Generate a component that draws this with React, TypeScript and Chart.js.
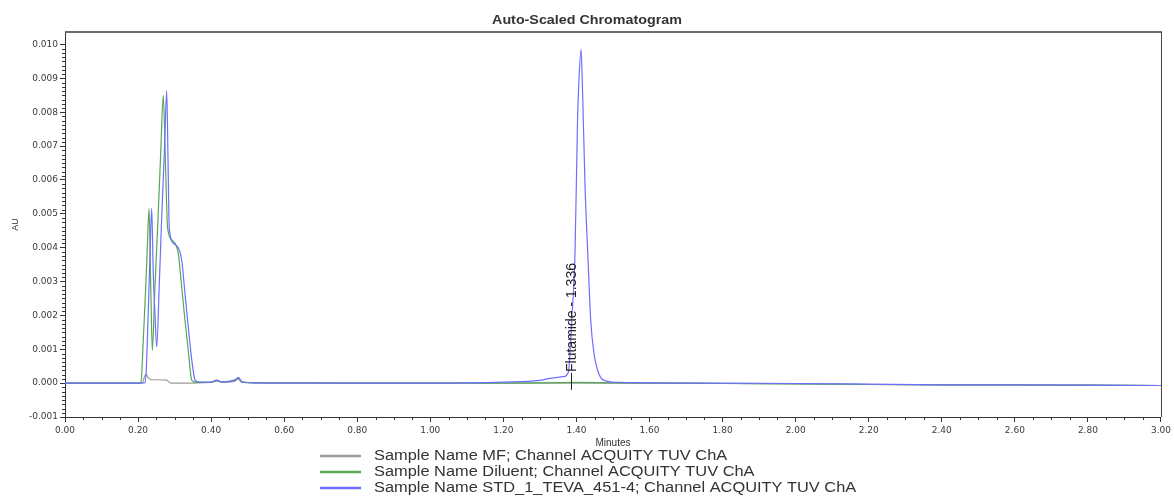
import React, { useEffect, useRef } from "react";
import { Chart, registerables } from "chart.js";

Chart.register(...registerables);

const TITLE = "Auto-Scaled Chromatogram";
const X_TITLE = "Minutes";
const Y_TITLE = "AU";
const X_TICKS = [0.0, 0.2, 0.4, 0.6, 0.8, 1.0, 1.2, 1.4, 1.6, 1.8, 2.0, 2.2, 2.4, 2.6, 2.8, 3.0];
const Y_TICKS = [-0.001, 0.0, 0.001, 0.002, 0.003, 0.004, 0.005, 0.006, 0.007, 0.008, 0.009, 0.01];
const X_MIN = 0;
const X_MAX = 3.0;
const Y_MIN = -0.001;
const Y_MAX = 0.01037;

const SERIES_NAMES = [
  "Sample Name MF; Channel ACQUITY TUV ChA",
  "Sample Name Diluent; Channel ACQUITY TUV ChA",
  "Sample Name STD_1_TEVA_451-4; Channel ACQUITY TUV ChA",
];
const SERIES_COLORS = ["#9c9c9c", "#55a855", "#6e6eff"];

const MF_T = [0, 0.1, 0.2, 0.212, 0.218, 0.222, 0.228, 0.236, 0.255, 0.278, 0.288, 0.32, 0.4, 0.415, 0.43, 0.465, 0.474, 0.485, 0.6, 1.0, 1.4, 1.8, 2.0, 2.2, 2.4, 2.6, 2.8, 3.0];
const MF_V = [0, 0, 0, 0.00002, 0.0002, 0.00026, 0.00016, 0.0001, 0.0001, 0.00009, 0.00001, 0, 0.00002, 0.00006, 0.00002, 0.00006, 0.00012, 0.00002, 0, 0, 0, -0.00001, -0.00002, -0.00004, -0.00005, -0.00005, -0.00006, -0.00007];

const DIL_T = [0, 0.1, 0.2, 0.208, 0.214, 0.22, 0.225, 0.23, 0.2345, 0.239, 0.246, 0.254, 0.262, 0.269, 0.275, 0.281, 0.295, 0.31, 0.318, 0.328, 0.338, 0.347, 0.36, 0.4, 0.415, 0.43, 0.465, 0.474, 0.485, 0.52, 0.8, 1.0, 1.2, 1.4, 1.6, 1.8, 2.0, 2.2, 2.4, 2.6, 2.8, 3.0];
const DIL_V = [0, 0, 0, 0.00003, 0.0012, 0.0026, 0.0039, 0.00516, 0.003, 0.00097, 0.0028, 0.0047, 0.0068, 0.0085, 0.0065, 0.00457, 0.0042, 0.00383, 0.003, 0.0019, 0.0009, 0.00008, 0.00002, 0.00003, 0.00008, 0.00003, 0.0001, 0.00015, 0.00003, 0.00001, 0, 0, 0, 0.00002, 0, -0.00001, -0.00002, -0.00004, -0.00005, -0.00005, -0.00006, -0.00007];

const STD_T = [0, 0.1, 0.2, 0.218, 0.222, 0.227, 0.232, 0.2373, 0.2415, 0.246, 0.251, 0.258, 0.2647, 0.272, 0.2784, 0.282, 0.2855, 0.3, 0.3194, 0.328, 0.338, 0.348, 0.356, 0.365, 0.4, 0.415, 0.43, 0.465, 0.474, 0.485, 0.52, 0.8, 1.0, 1.2, 1.3, 1.328, 1.364, 1.378, 1.387, 1.396, 1.403, 1.406, 1.4125, 1.416, 1.4235, 1.431, 1.439, 1.448, 1.4627, 1.483, 1.52, 1.8, 2.0, 2.2, 2.4, 2.6, 2.8, 3.0];
const STD_V = [0, 0, 0, 0.00001, 0.0003, 0.0018, 0.0035, 0.00516, 0.0033, 0.0021, 0.00107, 0.0029, 0.0049, 0.0068, 0.00864, 0.0066, 0.00457, 0.0041, 0.00363, 0.0027, 0.0016, 0.0006, 0.00009, 0.00004, 0.00003, 0.00009, 0.00004, 0.00008, 0.00017, 0.00004, 0.00001, 0, 0, 0.00003, 0.00008, 0.00014, 0.00019, 0.00033, 0.00186, 0.00383, 0.00777, 0.00875, 0.00985, 0.0089, 0.0058, 0.00383, 0.00186, 0.00088, 0.00024, 0.00006, 0.00002, 0, -0.00001, -0.00003, -0.00005, -0.00005, -0.00006, -0.00007];

const PEAK_LABEL = "Flutamide - 1.336";
const PEAK_MARK_T = 1.384;
const X_MINOR_DIV = 4;
const Y_MINOR_DIV = 8;

const toPts = (t: number[], v: number[]) => t.map((x, i) => ({ x, y: v[i] }));

const decorPlugin = {
  id: "decor",
  afterDraw(chart: any) {
    const { ctx, chartArea } = chart;
    const xs = chart.scales.x;
    const ys = chart.scales.y;
    const { left, right, top, bottom } = chartArea;
    ctx.save();
    // frame: top and right
    ctx.strokeStyle = "#6a6a6a";
    ctx.lineWidth = 2;
    ctx.beginPath();
    ctx.moveTo(left, top);
    ctx.lineTo(right + 1, top);
    ctx.stroke();
    ctx.strokeStyle = "#444";
    ctx.lineWidth = 1;
    ctx.beginPath();
    ctx.moveTo(right + 0.5, top);
    ctx.lineTo(right + 0.5, bottom);
    ctx.stroke();
    // minor ticks
    ctx.strokeStyle = "#333";
    ctx.lineWidth = 1;
    ctx.beginPath();
    for (let i = 0; i < X_TICKS.length - 1; i++) {
      const a = X_TICKS[i];
      const b = X_TICKS[i + 1];
      for (let k = 1; k < X_MINOR_DIV; k++) {
        const px = Math.round(xs.getPixelForValue(a + ((b - a) * k) / X_MINOR_DIV)) + 0.5;
        ctx.moveTo(px, bottom);
        ctx.lineTo(px, bottom + 3);
      }
    }
    for (let i = 0; i < Y_TICKS.length - 1; i++) {
      const a = Y_TICKS[i];
      const b = Y_TICKS[i + 1];
      for (let k = 1; k < Y_MINOR_DIV; k++) {
        const py = Math.round(ys.getPixelForValue(a + ((b - a) * k) / Y_MINOR_DIV)) + 0.5;
        ctx.moveTo(left, py);
        ctx.lineTo(left - 3, py);
      }
    }
    ctx.stroke();
    // peak annotation
    const mx = Math.round(xs.getPixelForValue(PEAK_MARK_T)) + 0.5;
    const y0 = ys.getPixelForValue(0.0003);
    const y1 = ys.getPixelForValue(-0.0002);
    ctx.strokeStyle = "#222";
    ctx.beginPath();
    ctx.moveTo(mx, y0);
    ctx.lineTo(mx, y1);
    ctx.stroke();
    ctx.save();
    ctx.translate(mx + 1, y0 - 1);
    ctx.rotate(-Math.PI / 2);
    ctx.fillStyle = "#222";
    ctx.font = '14px "Liberation Sans", Arial, sans-serif';
    ctx.textAlign = "left";
    ctx.textBaseline = "middle";
    ctx.fillText(PEAK_LABEL, 0, 0);
    ctx.restore();
    // title
    ctx.save();
    ctx.translate(chart.width / 2, 20);
    ctx.scale(1.1, 1);
    ctx.fillStyle = "#333";
    ctx.font = 'bold 13px "Liberation Sans", Arial, sans-serif';
    ctx.textAlign = "center";
    ctx.textBaseline = "middle";
    ctx.fillText(TITLE, 0, 0);
    ctx.restore();
    // legend
    const rowY = [456, 472, 488];
    SERIES_NAMES.forEach((name, i) => {
      const y = rowY[i];
      ctx.strokeStyle = SERIES_COLORS[i];
      ctx.lineWidth = 2.5;
      ctx.beginPath();
      ctx.moveTo(320, y);
      ctx.lineTo(361, y);
      ctx.stroke();
      ctx.save();
      ctx.translate(374, y);
      ctx.scale(1.17, 1);
      ctx.fillStyle = "#333";
      ctx.font = '14px "Liberation Sans", Arial, sans-serif';
      ctx.textAlign = "left";
      ctx.textBaseline = "middle";
      ctx.fillText(name, 0, 0);
      ctx.restore();
    });
    ctx.restore();
  },
};

export default function App() {
  const ref = useRef<HTMLCanvasElement>(null);
  useEffect(() => {
    const canvas = ref.current;
    if (!canvas) return;
    const tickFont = { family: "DejaVu Sans", size: 9 };
    const chart = new Chart(canvas, {
      type: "line",
      data: {
        datasets: [
          {
            label: SERIES_NAMES[2],
            data: toPts(STD_T, STD_V),
            borderColor: SERIES_COLORS[2],
            borderWidth: 1.2,
            pointRadius: 0,
            cubicInterpolationMode: "monotone",
            order: 0,
          },
          {
            label: SERIES_NAMES[1],
            data: toPts(DIL_T, DIL_V),
            borderColor: SERIES_COLORS[1],
            borderWidth: 1.2,
            pointRadius: 0,
            cubicInterpolationMode: "monotone",
            order: 1,
          },
          {
            label: SERIES_NAMES[0],
            data: toPts(MF_T, MF_V),
            borderColor: SERIES_COLORS[0],
            borderWidth: 1.2,
            pointRadius: 0,
            cubicInterpolationMode: "monotone",
            order: 2,
          },
        ],
      },
      options: {
        responsive: false,
        animation: false,
        parsing: false,
        layout: { padding: { top: 32, right: 13, bottom: 47, left: 0 } },
        plugins: {
          legend: { display: false },
          title: { display: false },
          tooltip: { enabled: false },
        },
        scales: {
          x: {
            type: "linear",
            min: X_MIN,
            max: X_MAX,
            afterBuildTicks: (axis: any) => {
              axis.ticks = X_TICKS.map((v) => ({ value: v }));
            },
            afterFit: (axis: any) => {
              axis.height = 32;
            },
            ticks: {
              callback: (v: any) => Number(v).toFixed(2),
              font: tickFont,
              color: "#3a3a3a",
              padding: 3,
              maxRotation: 0,
              autoSkip: false,
            },
            grid: {
              display: true,
              drawOnChartArea: false,
              drawTicks: true,
              tickLength: 5,
              color: "#333",
            },
            border: { display: true, color: "#333", width: 1 },
            title: {
              display: true,
              text: X_TITLE,
              font: { family: "Liberation Sans", size: 10 },
              color: "#333",
              padding: 0,
            },
          },
          y: {
            type: "linear",
            min: Y_MIN,
            max: Y_MAX,
            afterBuildTicks: (axis: any) => {
              axis.ticks = Y_TICKS.map((v) => ({ value: v }));
            },
            afterFit: (axis: any) => {
              axis.width = 65;
            },
            ticks: {
              callback: (v: any) => Number(v).toFixed(3),
              font: tickFont,
              color: "#3a3a3a",
              padding: 2,
              autoSkip: false,
            },
            grid: {
              display: true,
              drawOnChartArea: false,
              drawTicks: true,
              tickLength: 5,
              color: "#333",
            },
            border: { display: true, color: "#333", width: 1 },
            title: {
              display: true,
              text: Y_TITLE,
              font: { family: "Liberation Sans", size: 9 },
              color: "#333",
              padding: { top: 10, bottom: 0 },
            },
          },
        },
      },
      plugins: [decorPlugin],
    } as any);
    return () => chart.destroy();
  }, []);
  return (
    <div style={{ position: "fixed", left: 0, top: 0, width: 1174, height: 496, background: "#fff" }}>
      <canvas ref={ref} width={1174} height={496} style={{ display: "block", width: 1174, height: 496 }} />
    </div>
  );
}
